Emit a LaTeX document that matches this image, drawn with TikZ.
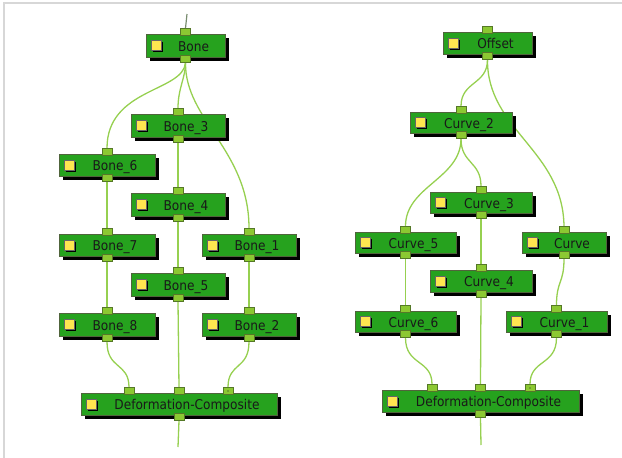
\documentclass[tikz,border=0pt]{standalone}
\usepackage{fontspec}
\setmainfont{DejaVu Sans}[FakeStretch=0.9]
\usetikzlibrary{shadows,backgrounds}
\definecolor{boxg}{RGB}{38,162,30}
\definecolor{boxb}{RGB}{80,100,60}
\definecolor{portg}{RGB}{140,200,50}
\definecolor{portb}{RGB}{85,120,40}
\definecolor{wirec}{RGB}{150,208,80}
\definecolor{topwire}{RGB}{120,140,110}
\definecolor{iconY}{RGB}{255,230,80}
\definecolor{framec}{RGB}{215,215,215}
\tikzset{
 gbox/.style={draw=boxb, fill=boxg, line width=0.8pt, inner sep=0pt, outer sep=0pt,
   drop shadow={shadow xshift=3.5pt, shadow yshift=-3.5pt, opacity=1, fill=black}},
 gtext/.style={inner sep=0pt, anchor=base, font=\fontsize{13.5}{14}\selectfont, text=black!90},
 icon/.style={draw=black!60, fill=iconY, minimum size=10pt, inner sep=0pt, line width=0.5pt,
   drop shadow={shadow xshift=1.8pt, shadow yshift=-1.8pt, opacity=1, fill=black}},
 port/.style={draw=portb, fill=portg, minimum width=10pt, minimum height=7pt, inner sep=0pt, line width=0.6pt},
 wire/.style={draw=wirec, line width=1.3pt},
}
\newcommand\gbox[6]{%
 \node[gbox, minimum width={(#4-#2)*1pt}, minimum height={(#5-#3)*1pt}] (#1) at ({(#2+#4)/2},{(#3+#5)/2}) {};
 \node[icon] (#1-ic) at ([xshift=10.5pt]#1.west) {};
 \node[gtext] (#1-t) at ([xshift=8pt,yshift=-5.5pt]#1.center) {#6};
 \node[port] (#1-i) at ([yshift=2pt]#1.north) {};
 \node[port] (#1-o) at ([yshift=-2pt]#1.south) {};
}
\begin{document}
\begin{tikzpicture}[x=1pt,y=-1pt]
\useasboundingbox (0,0) rectangle (622,458);
\draw[framec, line width=1.5pt] (4,458) -- (4,3) -- (622,3);

% left graph
\gbox{bone}{146}{34}{225}{57}{Bone}
\gbox{b3}{131}{114}{225}{137}{Bone\_3}
\gbox{b6}{59}{154}{155}{176}{Bone\_6}
\gbox{b4}{131}{193}{225}{216}{Bone\_4}
\gbox{b7}{59}{234}{155}{256}{Bone\_7}
\gbox{b1}{202}{234}{296}{256}{Bone\_1}
\gbox{b5}{131}{273}{225}{296}{Bone\_5}
\gbox{b8}{59}{313}{155}{336}{Bone\_8}
\gbox{b2}{202}{313}{296}{336}{Bone\_2}
\gbox{dcL}{81}{393}{277}{415}{Deformation-Composite}
\node[port] (dcL-a) at ([xshift=-50pt,yshift=2pt]dcL.north) {};
\node[port] (dcL-c) at ([xshift=49pt,yshift=2pt]dcL.north) {};
\fill[portb] (dcL-c.center) circle (0.9);
\coordinate (bone-top) at (187,14);
\coordinate (dcL-end) at (178,447);

% right graph
\gbox{off}{443}{32}{532}{54}{Offset}
\gbox{c2}{410}{112}{512}{133}{Curve\_2}
\gbox{c3}{430}{192}{532}{213}{Curve\_3}
\gbox{c5}{355}{232}{456}{253}{Curve\_5}
\gbox{cu}{522}{232}{606}{253}{Curve}
\gbox{c4}{430}{270}{532}{292}{Curve\_4}
\gbox{c6}{355}{311}{456}{332}{Curve\_6}
\gbox{c1}{506}{311}{607}{332}{Curve\_1}
\gbox{dcR}{382}{390}{579}{412}{Deformation-Composite}
\node[port] (dcR-a) at ([xshift=-48.5pt,yshift=2pt]dcR.north) {};
\node[port] (dcR-c) at ([xshift=49.5pt,yshift=2pt]dcR.north) {};
\fill[portb] (dcR-c.center) circle (0.9);
\coordinate (dcR-end) at (481,445);

\begin{pgfonlayer}{background}
 \draw[draw=topwire, line width=1.2pt] (bone-top) -- (bone-i.north);
 \draw[wire] (bone-o.south) .. controls +(0,15) and +(0,-20) .. (b3-i.north);
 \draw[wire] (bone-o.south) .. controls (183,92) and (107,88) .. (b6-i.north);
 \draw[wire] (bone-o.south) .. controls (185,120) and (249,150) .. (b1-i.north);
 \draw[wire] (b3-o.south) -- (b4-i.north);
 \draw[wire] (b4-o.south) -- (b5-i.north);
 \draw[wire] (b5-o.south) -- (dcL-i.north);
 \draw[wire] (b6-o.south) -- (b7-i.north);
 \draw[wire] (b7-o.south) -- (b8-i.north);
 \draw[wire] (b8-o.south) .. controls +(0,28) and +(0,-25) .. (dcL-a.north);
 \draw[wire] (b1-o.south) -- (b2-i.north);
 \draw[wire] (b2-o.south) .. controls +(0,28) and +(0,-25) .. (dcL-c.north);
 \draw[wire] (dcL-o.south) -- (dcL-end);

 \draw[wire] (off-o.south) .. controls +(0,25) and +(0,-25) .. (c2-i.north);
 \draw[wire] (off-o.south) .. controls (487,130) and (563,150) .. (cu-i.north);
 \draw[wire] (c2-o.south) .. controls +(0,40) and +(0,-40) .. (c5-i.north);
 \draw[wire] (c2-o.south) .. controls +(0,25) and +(0,-25) .. (c3-i.north);
 \draw[wire] (c3-o.south) -- (c4-i.north);
 \draw[wire] (c4-o.south) -- (dcR-i.north);
 \draw[wire] (c5-o.south) -- (c6-i.north);
 \draw[wire] (c6-o.south) .. controls +(0,28) and +(0,-25) .. (dcR-a.north);
 \draw[wire] (cu-o.south) .. controls +(0,25) and +(0,-25) .. (c1-i.north);
 \draw[wire] (c1-o.south) .. controls +(0,28) and +(0,-25) .. (dcR-c.north);
 \draw[wire] (dcR-o.south) -- (dcR-end);
\end{pgfonlayer}
\end{tikzpicture}
\end{document}
